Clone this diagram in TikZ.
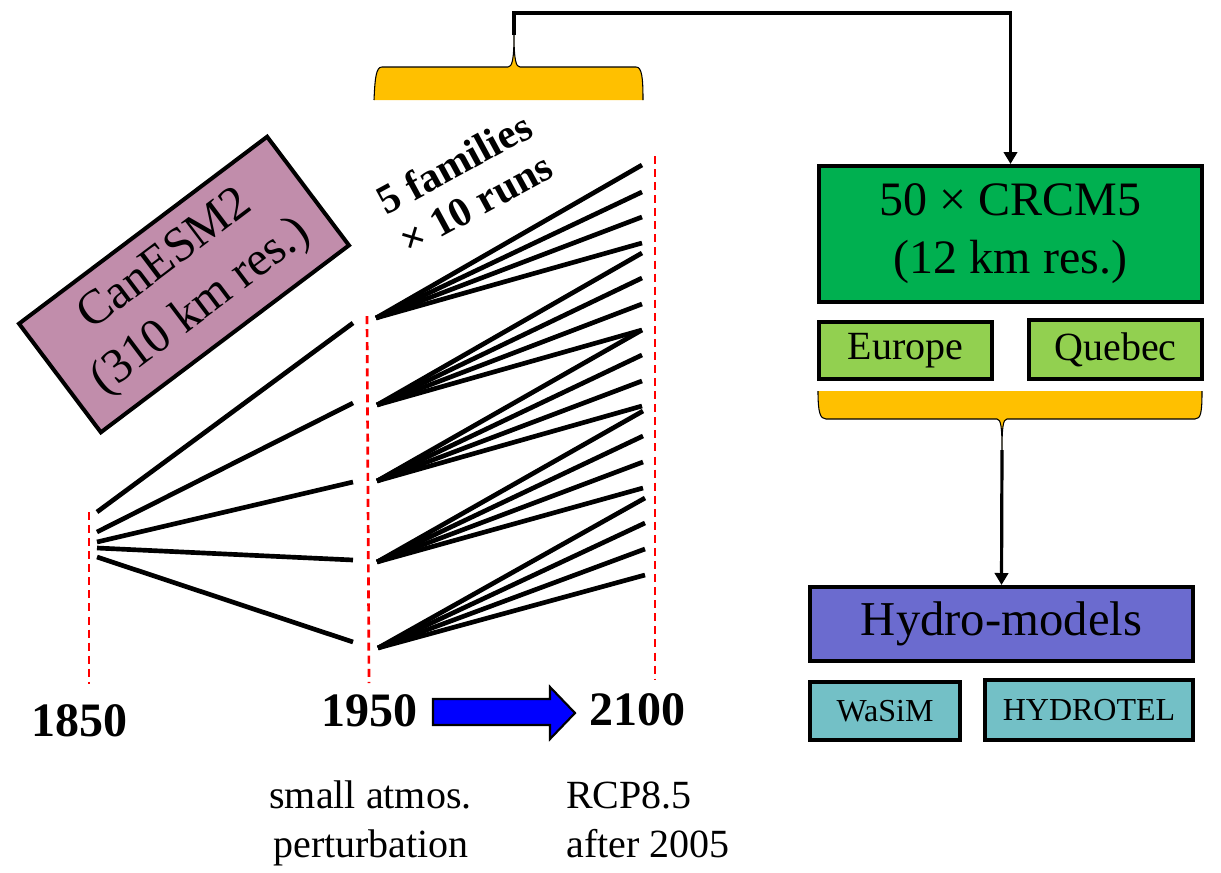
\documentclass[tikz,border=0pt]{standalone}
\usepackage{fontspec}
\setmainfont{Liberation Serif}
\usetikzlibrary{arrows.meta}
\definecolor{canesm}{RGB}{193,141,171}
\definecolor{crcmgreen}{RGB}{0,176,80}
\definecolor{regiongreen}{RGB}{146,208,80}
\definecolor{braceyellow}{RGB}{255,192,0}
\definecolor{hydropurple}{RGB}{107,107,207}
\definecolor{hydroteal}{RGB}{115,192,198}
\definecolor{arrowblue}{RGB}{0,0,255}
\begin{document}
\begin{tikzpicture}[x=0.75pt,y=-0.75pt,
  box/.style={draw=black,line width=3pt,inner sep=0pt,align=center},
  redline/.style={draw=red,line width=2pt,dash pattern=on 6pt off 3.8pt},
  runline/.style={draw=black,line width=3.5pt},
  conn/.style={draw=black,line width=2.4pt,-{Triangle[width=10pt,length=9pt]}},
  bracefill/.style={fill=braceyellow},
  braceline/.style={draw=black,line width=0.8pt},
  yearlabel/.style={font=\fontsize{36}{43}\selectfont\bfseries,inner sep=0pt},
  notelabel/.style={font=\fontsize{30}{36}\selectfont,inner sep=0pt}]
\useasboundingbox (0,0) rectangle (1221,872);

% ---------- time axes (red dashed) ----------
\coordinate (t1850top) at (89,512);   \coordinate (t1850bot) at (89,684);
\coordinate (t1950top) at (367,316);  \coordinate (t1950bot) at (369,683);
\coordinate (t2100top) at (655,156);  \coordinate (t2100bot) at (655,680);
\draw[redline] (t1850top) -- (t1850bot);
\draw[redline] (t1950top) -- (t1950bot);
\draw[redline] (t2100top) -- (t2100bot);

% ---------- CanESM2 box ----------
\node[box,fill=canesm,rotate=37,minimum width=233pt,minimum height=102pt,
      font=\fontsize{36.5}{44}\selectfont] (canesm) at (184,284.5)
      {CanESM2\\(310 km res.)};

% ---------- 1850 -> 1950 fan ----------
\draw[runline] (97,512) -- (353,323);
\draw[runline] (97,532) -- (353,403);
\draw[runline] (97,542) -- (353,482);
\draw[runline] (97,548) -- (353,560);
\draw[runline] (97,557) -- (353,642);

% ---------- 1950 -> 2100 families ----------
\coordinate (f1) at (376,318);
\coordinate (f2) at (377,405);
\coordinate (f3) at (377,481);
\coordinate (f4) at (377,562);
\coordinate (f5) at (378,648);
\foreach \y in {165,192,217,243} \draw[runline] (f1) -- (642,\y);
\foreach \y in {253,278,304,330} \draw[runline] (f2) -- (642,\y);
\foreach \y in {330,355,381,406} \draw[runline] (f3) -- (642,\y);
\foreach \y in {411,436,462,488} \draw[runline] (f4) -- (643,\y);
\foreach \y in {498,523,549,575} \draw[runline] (f5) -- (645,\y);

\node[rotate=28.5,align=center,inner sep=0pt,
      font=\fontsize{31}{34}\selectfont\bfseries] (families) at (465,183)
      {5 families\\× 10 runs};

% ---------- years ----------
\node[yearlabel] (y1850) at (79.5,720.5) {1850};
\node[yearlabel] (y1950) at (369.5,710.5) {1950};
\node[yearlabel] (y2100) at (637.5,709.5) {2100};

\draw[fill=arrowblue,draw=black,line width=1.6pt,line join=miter]
  (433,699) -- (550,699) -- (550,687) -- (575,713) -- (550,739) -- (550,725) -- (433,725) -- cycle;

% ---------- notes ----------
\node[notelabel,anchor=base] (note1a) at (370.5,808) {small atmos.};
\node[notelabel,anchor=base] (note1b) at (371,857) {perturbation};
\node[notelabel,anchor=base west] (note2a) at (566,808) {RCP8.5};
\node[notelabel,anchor=base west] (note2b) at (566,857) {after 2005};

% ---------- top brace ----------
\coordinate (brace1tip) at (514,35);
\fill[bracefill] (374,100) .. controls (375,78) and (376,67) .. (382,67) -- (508,67)
  .. controls (512,67) and (514,60) .. (brace1tip)
  .. controls (514,60) and (516,67) .. (520,67) -- (636,67)
  .. controls (642,67) and (643,78) .. (643,100) -- cycle;
\draw[braceline] (374,100) .. controls (375,78) and (376,67) .. (382,67) -- (508,67)
  .. controls (512,67) and (514,60) .. (brace1tip)
  .. controls (514,60) and (516,67) .. (520,67) -- (636,67)
  .. controls (642,67) and (643,78) .. (643,100);

% ---------- right column ----------
\node[box,fill=crcmgreen,minimum width=287pt,minimum height=102pt,
      font=\fontsize{36}{43.5}\selectfont] (crcm) at (1010.5,234)
      {50 × CRCM5\\(12 km res.)};
\node[box,fill=regiongreen,minimum width=130pt,minimum height=43pt,
      font=\fontsize{30}{36}\selectfont] (europe) at (905.5,350.5) {Europe};
\node[box,fill=regiongreen,minimum width=130pt,minimum height=44pt,
      font=\fontsize{30}{36}\selectfont] (quebec) at (1115.5,349.5) {Quebec};

\coordinate (brace2tip) at (1002,450);
\fill[bracefill] (818,391) .. controls (818,412) and (820,419) .. (826,419) -- (997,419)
  .. controls (1001,419) and (1002,428) .. (brace2tip)
  .. controls (1002,428) and (1003,419) .. (1007,419) -- (1195,419)
  .. controls (1201,419) and (1202,412) .. (1202,391) -- cycle;
\draw[braceline] (818,391) .. controls (818,412) and (820,419) .. (826,419) -- (997,419)
  .. controls (1001,419) and (1002,428) .. (brace2tip)
  .. controls (1002,428) and (1003,419) .. (1007,419) -- (1195,419)
  .. controls (1201,419) and (1202,412) .. (1202,391);

\node[box,fill=hydropurple,minimum width=287pt,minimum height=55.5pt,
      font=\fontsize{36.5}{44}\selectfont] (hydro) at (1001.5,624) {Hydro-models};
\node[box,fill=hydroteal,minimum width=112.5pt,minimum height=43.5pt,
      font=\fontsize{24}{29}\selectfont] (wasim) at (885,711) {WaSiM};
\node[box,fill=hydroteal,minimum width=156pt,minimum height=45pt,
      font=\fontsize{24}{29}\selectfont] (hydrotel) at (1089,710) {HYDROTEL};

% ---------- connectors ----------
\coordinate (topcorner) at (514,13);
\draw[conn,line join=miter] (brace1tip) -- (topcorner) -| (crcm.north);
\draw[conn] (brace2tip) -- (hydro.north);
\end{tikzpicture}
\end{document}
